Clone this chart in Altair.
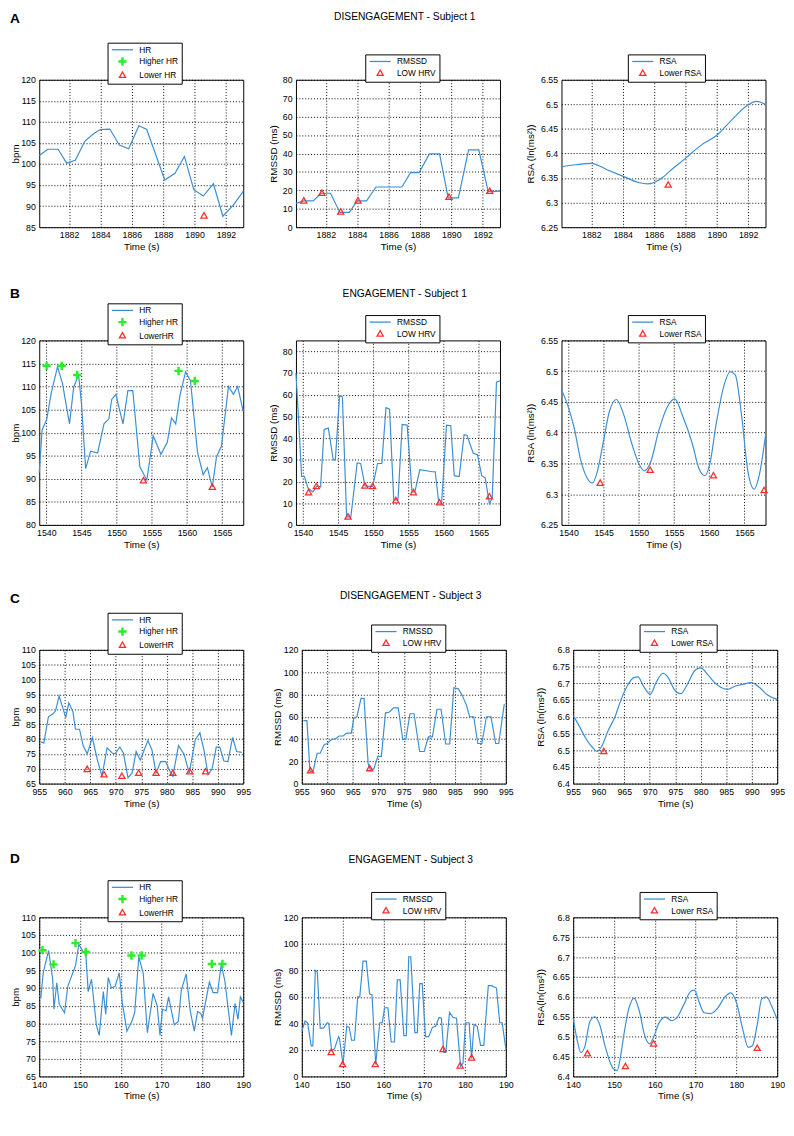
import altair as alt
import pandas as pd

FONT = "Liberation Sans"
BLUE = "#3b8ed3"
GREEN = "#2bee2b"
RED = "#ff2b2b"
LINE_SYM = "M-3.6,0L3.6,0"
PLUS_SYM = ("M-1.2,-0.2L-0.2,-0.2L-0.2,-1.2L0.2,-1.2L0.2,-0.2L1.2,-0.2L1.2,0.2L0.2,0.2"
            "L0.2,1.2L-0.2,1.2L-0.2,0.2L-1.2,0.2Z")
TRI_SYM = "M0,-1.1L1.05,0.75L-1.05,0.75Z"

ROW_TITLES = ["DISENGAGEMENT - Subject 1", "ENGAGEMENT - Subject 1",
              "DISENGAGEMENT - Subject 3", "ENGAGEMENT - Subject 3"]
LETTERS = ["A", "B", "C", "D"]
HR_NAMES_A = ["HR", "Higher HR", "Lower HR"]
HR_NAMES = ["HR", "Higher HR", "LowerHR"]
RM_NAMES = ["RMSSD", "LOW HRV"]
RSA_NAMES = ["RSA", "Lower RSA"]

# ---------------- Row A : DISENGAGEMENT - Subject 1 ----------------
A_X_TICKS = [1882, 1884, 1886, 1888, 1890, 1892]
A_HR_T = [1880.1, 1880.65, 1881.3, 1881.85, 1882.4, 1883.0, 1883.6, 1884.0, 1884.6, 1885.2, 1885.8,
          1886.45, 1886.95, 1888.1, 1888.75, 1889.35, 1889.95, 1890.55, 1891.2, 1891.8, 1892.45, 1893.1]
A_HR_V = [102.0, 103.5, 103.5, 100.2, 100.9, 105.4, 107.3, 108.2, 108.3, 104.5, 103.6,
          109.1, 108.2, 96.2, 97.8, 101.8, 93.9, 92.4, 95.3, 87.6, 90.2, 93.5]
A_HR_HI_T, A_HR_HI_V = [], []
A_HR_LO_T, A_HR_LO_V = [1890.6], [87.7]
A_RM_T = [1880.1, 1880.6, 1881.2, 1881.7, 1882.3, 1882.9, 1883.5, 1884.0, 1884.6, 1885.2, 1886.85,
          1887.4, 1887.95, 1888.6, 1889.25, 1889.8, 1890.45, 1891.1, 1891.75, 1892.35, 1893.1]
A_RM_V = [12.9, 14.3, 14.3, 18.4, 18.4, 8.0, 8.0, 14.3, 14.3, 21.8, 21.8,
          29.6, 29.6, 39.8, 39.8, 15.9, 15.9, 42.0, 42.0, 19.3, 19.6]
A_RM_LO_T = [1880.6, 1881.75, 1882.95, 1884.05, 1889.85, 1892.45]
A_RM_LO_V = [14.3, 18.4, 8.3, 14.3, 16.3, 19.5]
A_RSA_T = [1880.1, 1881.0, 1882.0, 1883.0, 1884.0, 1885.0, 1885.6, 1886.0, 1886.5, 1887.0,
           1888.0, 1889.0, 1890.0, 1891.0, 1892.0, 1892.5, 1893.1]
A_RSA_V = [6.373, 6.377, 6.380, 6.367, 6.354, 6.341, 6.338, 6.341, 6.35, 6.364,
           6.39, 6.417, 6.437, 6.47, 6.499, 6.506, 6.5]
A_RSA_LO_T, A_RSA_LO_V = [1886.9], [6.336]

# ---------------- Row B : ENGAGEMENT - Subject 1 ----------------
B_X_TICKS = [1540, 1545, 1550, 1555, 1560, 1565]
B_HR_T = [1539.0, 1539.4, 1540.05, 1540.7, 1541.6, 1542.3, 1543.3, 1543.9, 1544.6, 1545.0,
          1545.6, 1546.3, 1547.3, 1548.2, 1548.9, 1549.3, 1549.9, 1550.9, 1551.6, 1552.3,
          1553.3, 1554.3, 1555.2, 1556.3, 1557.2, 1557.8, 1558.4, 1559.0, 1559.8, 1560.5,
          1561.5, 1562.3, 1562.9, 1563.6, 1564.2, 1564.9, 1565.9, 1566.6, 1567.2, 1568.0]
B_HR_V = [91.3, 100.6, 102.8, 108.5, 114.3, 110.7, 101.9, 109.9, 112.5, 106.3,
          92.2, 96.0, 95.6, 101.9, 103.0, 107.2, 108.3, 101.9, 109.1, 109.1,
          92.6, 89.7, 99.3, 95.3, 97.9, 103.2, 101.9, 108.1, 113.2, 111.2,
          95.7, 90.9, 92.4, 88.2, 94.8, 97.1, 110.0, 108.3, 110.0, 104.6]
B_HR_HI_T = [1540.05, 1542.2, 1544.4, 1558.8, 1561.1]
B_HR_HI_V = [114.5, 114.5, 112.5, 113.4, 111.2]
B_HR_LO_T = [1553.8, 1563.6]
B_HR_LO_V = [89.6, 88.2]
B_RM_T = [1539.0, 1539.5, 1539.8, 1540.2, 1540.7, 1541.4, 1542.0, 1542.5, 1543.0, 1543.6,
          1544.3, 1544.6, 1545.2, 1545.6, 1546.2, 1546.8, 1547.7, 1548.2, 1548.8, 1549.9,
          1550.6, 1551.2, 1551.8, 1552.3, 1552.9, 1553.5, 1554.1, 1554.8, 1555.5, 1555.9,
          1556.6, 1558.4, 1558.8, 1559.3, 1559.7, 1560.4, 1561.0, 1561.5, 1562.2, 1562.9,
          1563.3, 1564.2, 1564.8, 1565.4, 1565.9, 1566.5, 1566.9, 1567.5, 1568.0]
B_RM_V = [70, 41, 22.3, 22.3, 17, 15.2, 18, 17.5, 44, 44.6,
          30, 30, 59.5, 59, 3.7, 3.7, 28.6, 28.3, 18, 17.7,
          28.3, 28.3, 54, 53.3, 11.5, 11.5, 46.3, 46, 15.2, 15.2,
          25.5, 24.5, 24.5, 10, 10, 46, 45.7, 22.7, 22.3, 41.6,
          41.3, 33, 32.3, 22.7, 21.7, 9.7, 12.5, 65.8, 66.4]
B_RM_LO_T = [1540.8, 1541.9, 1546.4, 1548.8, 1549.9, 1553.2, 1555.7, 1559.4, 1566.5]
B_RM_LO_V = [14.9, 17.7, 3.7, 18, 17.7, 11.2, 14.9, 10.2, 13]
B_RSA_T = [1539.0, 1539.9, 1540.8, 1541.7, 1542.6, 1543.4, 1544.1, 1544.9, 1545.8, 1546.8,
           1547.8, 1549.0, 1550.1, 1550.8, 1551.7, 1552.8, 1554.0, 1555.1, 1556.2, 1557.6,
           1558.5, 1559.4, 1560.1, 1561.0, 1562.1, 1563.0, 1563.7, 1564.6, 1565.5, 1566.4,
           1567.1, 1568.0]
B_RSA_V = [6.47, 6.444, 6.408, 6.357, 6.327, 6.318, 6.337, 6.382, 6.434, 6.454,
           6.431, 6.382, 6.347, 6.338, 6.353, 6.402, 6.441, 6.455, 6.428, 6.382,
           6.343, 6.33, 6.35, 6.415, 6.477, 6.499, 6.494, 6.428, 6.337, 6.308,
           6.33, 6.395]
B_RSA_LO_T = [1544.5, 1551.6, 1560.6, 1567.8]
B_RSA_LO_V = [6.318, 6.339, 6.33, 6.306]

# ---------------- Row C : DISENGAGEMENT - Subject 3 ----------------
C_X_TICKS = [955, 960, 965, 970, 975, 980, 985, 990, 995]
C_HR_T = [955.3, 955.9, 956.8, 957.7, 958.2, 958.9, 960.2, 960.8, 961.6, 962.1,
          962.9, 963.6, 964.4, 965.4, 966.4, 967.3, 968.3, 969.3, 969.9, 970.8,
          971.5, 972.4, 973.2, 974.0, 974.8, 976.3, 977.1, 977.9, 978.8, 979.8,
          980.4, 981.2, 982.3, 983.4, 984.4, 985.6, 986.5, 987.3, 988.1, 988.9,
          989.7, 990.4, 991.2, 992.0, 992.9, 993.7, 994.7]
C_HR_V = [79.1, 78.6, 87.5, 88.5, 89.5, 94.5, 87.2, 92.2, 89.2, 83.3,
          83.3, 77.8, 75.0, 80.5, 73.0, 67.5, 77.0, 75.3, 75.0, 77.3,
          75.3, 67.0, 68.5, 75.8, 72.9, 79.5, 76.3, 68.5, 72.4, 72.4,
          70.0, 67.5, 77.8, 74.9, 68.5, 79.8, 82.1, 76.3, 68.0, 70.0,
          77.3, 77.3, 72.6, 72.4, 80.5, 75.8, 75.5]
C_HR_HI_T, C_HR_HI_V = [], []
C_HR_LO_T = [964.4, 967.7, 971.2, 974.5, 977.9, 981.2, 984.5, 987.6]
C_HR_LO_V = [69.8, 68.0, 67.5, 68.5, 68.5, 68.5, 69.0, 69.0]
C_RM_T = [955.3, 956.0, 956.6, 957.2, 958.0, 958.6, 959.4, 960.0, 960.8, 961.7,
          962.3, 963.1, 963.8, 964.7, 965.2, 965.8, 966.6, 967.2, 968.0, 968.4,
          969.1, 969.9, 970.6, 971.4, 972.1, 973.0, 973.9, 974.8, 975.4, 976.2,
          977.0, 978.1, 979.0, 979.8, 980.6, 981.5, 982.3, 983.2, 984.0, 984.8,
          985.7, 986.5, 987.3, 987.9, 988.7, 989.5, 990.3, 991.2, 992.1, 993.0,
          993.6, 994.7]
C_RM_V = [56.5, 56.5, 11, 11, 27.2, 27.2, 35.2, 36, 39.5, 40.5,
          42.7, 42.7, 45.3, 45.3, 58.7, 60, 76.5, 76.5, 18, 13,
          13, 24.5, 24.5, 63.5, 64, 68, 68, 39.5, 40, 62.7,
          62.7, 28.8, 28.8, 41.9, 41.9, 66.7, 66.7, 35.5, 35.5, 86,
          85, 78.7, 70, 60, 60, 36, 36, 60, 60, 36,
          36, 71.5]
C_RM_LO_T = [956.7, 968.3]
C_RM_LO_V = [11.5, 13.5]
C_RSA_T = [955.0, 956.3, 957.5, 958.8, 959.7, 960.6, 961.9, 963.2, 964.4, 965.7,
           966.9, 967.7, 968.8, 970.1, 971.3, 972.6, 973.5, 974.8, 976.1, 977.3,
           978.9, 980.0, 981.4, 982.6, 983.9, 985.2, 986.7, 988.3, 989.9, 991.5,
           993.1, 995.0]
C_RSA_V = [6.604, 6.569, 6.534, 6.508, 6.496, 6.512, 6.56, 6.6, 6.652, 6.695,
           6.717, 6.719, 6.691, 6.667, 6.704, 6.73, 6.72, 6.682, 6.669, 6.695,
           6.739, 6.746, 6.726, 6.704, 6.688, 6.682, 6.691, 6.697, 6.702, 6.688,
           6.665, 6.652]
C_RSA_LO_T, C_RSA_LO_V = [961.0], [6.496]

# ---------------- Row D : ENGAGEMENT - Subject 3 ----------------
D_X_TICKS = [140, 150, 160, 170, 180, 190]
D_HR_T = [140.0, 140.4, 141.0, 142.3, 143.3, 143.6, 144.3, 144.9, 146.2, 147.0,
          148.9, 149.7, 150.8, 151.4, 152.0, 152.8, 154.0, 154.7, 155.7, 156.3,
          156.9, 157.7, 158.6, 159.6, 160.4, 161.5, 162.7, 163.4, 164.4, 165.5,
          166.5, 167.9, 168.9, 169.6, 170.2, 171.1, 171.7, 173.1, 174.1, 174.8,
          176.0, 177.0, 178.0, 178.8, 179.6, 180.0, 181.7, 182.6, 183.7, 184.6,
          185.5, 187.1, 188.0, 188.7, 189.3, 190.0]
D_HR_V = [88, 87.3, 94.5, 100.6, 92.5, 84, 91.5, 85.5, 83, 90.5,
          96.4, 102.4, 100.2, 99.8, 89, 92.5, 79.6, 76.6, 89, 82.6,
          93, 90, 90.5, 94.3, 85.5, 77.8, 80.6, 83.1, 98.9, 94,
          77.4, 88.5, 85, 76.6, 84, 83.6, 87.5, 79.6, 80.6, 89.3,
          94, 83.6, 77.8, 83.4, 82.8, 81.4, 91.7, 88.7, 88.7, 96.6,
          92, 76.6, 85.7, 81.1, 87.5, 86]
D_HR_HI_T = [140.8, 143.5, 148.9, 151.4, 162.6, 165.1, 182.3, 184.9]
D_HR_HI_V = [100.7, 96.7, 102.7, 100.2, 99.2, 99.2, 96.8, 96.8]
D_HR_LO_T, D_HR_LO_V = [], []
D_RM_T = [140.0, 140.8, 141.4, 142.3, 142.7, 143.3, 143.8, 144.5, 145.3, 146.2,
          146.6, 147.3, 148.0, 149.0, 149.2, 150.1, 151.0, 151.6, 152.2, 152.9,
          153.7, 154.2, 155.0, 155.8, 156.6, 157.2, 158.1, 159.1, 159.7, 160.3,
          161.1, 161.9, 162.7, 163.4, 164.1, 165.0, 165.6, 166.2, 166.7, 167.7,
          168.3, 168.9, 169.5, 170.3, 171.1, 172.0, 172.8, 173.6, 174.2, 174.8,
          175.3, 176.2, 177.1, 177.9, 178.9, 179.5, 180.1, 181.0, 181.6, 182.2,
          183.0, 183.8, 184.6, 185.7, 186.5, 187.7, 188.5, 189.1, 190.0]
D_RM_V = [34, 41.8, 40.5, 23, 23, 80, 78.5, 36.5, 36.5, 40.5,
          40, 19.5, 20.8, 30, 29, 9, 38, 37, 27.3, 27.3,
          60, 60, 87, 87, 62.3, 61.5, 9, 40.5, 40.5, 51.8,
          51.8, 26, 26, 72.8, 72.8, 30.8, 30.8, 90.3, 90.3, 33.1,
          33.1, 70, 70, 30, 30, 37, 37.8, 44.4, 43.9, 18.2,
          18.2, 48.3, 44.4, 43.9, 7.7, 10, 40.5, 40.5, 13.5, 39.2,
          37.8, 23.4, 23.4, 68.5, 68.5, 66.7, 40.5, 40.5, 20.8]
D_RM_LO_T = [147.2, 150.0, 158.0, 174.6, 178.8, 181.6]
D_RM_LO_V = [18.2, 9, 9, 20.3, 8, 14]
D_RSA_T = [140.0, 140.9, 141.9, 142.9, 144.1, 145.3, 146.5, 147.8, 149.1, 150.0,
           150.8, 151.6, 152.4, 153.6, 154.9, 156.2, 157.5, 158.7, 159.9, 161.0,
           162.6, 164.2, 165.4, 167.0, 168.9, 169.7, 170.9, 172.1, 173.7, 175.2,
           177.2, 178.6, 180.0, 181.5, 182.9, 183.9, 185.1, 186.2, 187.4, 188.6,
           190.0]
D_RSA_V = [6.547, 6.495, 6.46, 6.477, 6.538, 6.55, 6.53, 6.477, 6.434, 6.418,
           6.415, 6.45, 6.504, 6.569, 6.597, 6.565, 6.504, 6.482, 6.504, 6.534,
           6.549, 6.54, 6.547, 6.578, 6.615, 6.617, 6.586, 6.56, 6.558, 6.569,
           6.6, 6.61, 6.586, 6.521, 6.473, 6.477, 6.53, 6.595, 6.6, 6.578,
           6.543]
D_RSA_LO_T = [143.5, 152.8, 159.7, 185.1]
D_RSA_LO_V = [6.457, 6.425, 6.482, 6.471]

# ---------------- axes ----------------
HR_TICKS_AB = [85, 90, 95, 100, 105, 110, 115, 120]
HR_TICKS_B = [80, 85, 90, 95, 100, 105, 110, 115, 120]
HR_TICKS_CD = [65, 70, 75, 80, 85, 90, 95, 100, 105, 110]
RM_TICKS_AB = [0, 10, 20, 30, 40, 50, 60, 70, 80]
RM_TICKS_CD = [0, 20, 40, 60, 80, 100, 120]
RSA_TICKS_AB = [6.25, 6.3, 6.35, 6.4, 6.45, 6.5, 6.55]
RSA_TICKS_CD = [6.4, 6.45, 6.5, 6.55, 6.6, 6.65, 6.7, 6.75, 6.8]

W = 209


def panel(line_t, line_v, hi_t, hi_v, lo_t, lo_v, names, xdom, xticks, ydom, yticks,
          yfmt, ytitle, h, lx, ly, smooth=False, ytpad=3, head=None):
    line_df = pd.DataFrame({"t": line_t, "v": line_v})
    if len(names) == 3:
        pts_s = [names[1]] * len(hi_t) + [names[2]] * len(lo_t)
        colors = [BLUE, GREEN, RED]
        shapes = [LINE_SYM, PLUS_SYM, TRI_SYM]
    else:
        pts_s = [names[1]] * len(lo_t)
        colors = [BLUE, RED]
        shapes = [LINE_SYM, TRI_SYM]
    pts_df = pd.DataFrame({"t": list(hi_t) + list(lo_t), "v": list(hi_v) + list(lo_v), "s": pts_s})
    leg = alt.Legend(title=None, orient="none", legendX=lx, legendY=ly, direction="vertical",
                     columns=1, strokeColor="black", fillColor="white", padding=3, rowPadding=1,
                     labelFont=FONT, labelFontSize=8.5, labelColor="black", labelAlign="left",
                     symbolSize=36, symbolOffset=8, labelOffset=13, symbolStrokeWidth=1.3,
                     symbolFillColor="transparent")
    x = alt.X("t:Q", scale=alt.Scale(domain=xdom, nice=False, zero=False),
              axis=alt.Axis(values=xticks, format="d", title="Time (s)"))
    y = alt.Y("v:Q", scale=alt.Scale(domain=ydom, nice=False, zero=False),
              axis=alt.Axis(values=yticks, format=yfmt, title=ytitle, titlePadding=ytpad))
    line = alt.Chart(line_df).mark_line(
        color=BLUE, strokeWidth=1.2, interpolate="monotone" if smooth else "linear"
    ).encode(x=x, y=y)
    pts = alt.Chart(pts_df).mark_point(size=36, filled=False, strokeWidth=1.3, opacity=1).encode(
        x=x, y=y,
        color=alt.Color("s:N", scale=alt.Scale(domain=names, range=colors), legend=leg),
        shape=alt.Shape("s:N", scale=alt.Scale(domain=names, range=shapes), legend=leg))
    layers = [line, pts]
    if head is not None:
        txt, hx, hy, kind = head
        if kind == "letter":
            mk = alt.Chart(pd.DataFrame({"lab": [txt]})).mark_text(
                font=FONT, fontSize=14, fontWeight="bold", align="left", baseline="middle",
                color="black")
        else:
            mk = alt.Chart(pd.DataFrame({"lab": [txt]})).mark_text(
                font=FONT, fontSize=10.5, fontWeight="normal", align="center", baseline="middle",
                color="black")
        layers.append(mk.encode(text="lab:N", x=alt.value(hx), y=alt.value(hy)))
    return alt.layer(*layers).properties(width=W, height=h)


def row(i, data, hr_names, xdom, xticks, hr_dom, hr_ticks, rm_dom, rm_ticks, rsa_dom, rsa_ticks,
        rsa_title, h, y_letter, y_title, spacing, tp2, tp3):
    (hr_t, hr_v, hi_t, hi_v, lo_t, lo_v, rm_t, rm_v, rmlo_t, rmlo_v,
     rsa_t, rsa_v, rsalo_t, rsalo_v) = data
    p1 = panel(hr_t, hr_v, hi_t, hi_v, lo_t, lo_v, hr_names, xdom, xticks, hr_dom, hr_ticks,
               "d", "bpm", h, 70, -38, ytpad=0, head=(LETTERS[i], -30, y_letter, "letter"))
    p2 = panel(rm_t, rm_v, [], [], rmlo_t, rmlo_v, RM_NAMES, xdom, xticks, rm_dom, rm_ticks,
               "d", "RMSSD (ms)", h, 71, -26, ytpad=tp2,
               head=(ROW_TITLES[i], W / 2 + 7, y_title, "title"))
    p3 = panel(rsa_t, rsa_v, [], [], rsalo_t, rsalo_v, RSA_NAMES, xdom, xticks, rsa_dom,
               rsa_ticks, ".2~f", rsa_title, h, 68, -26, smooth=True, ytpad=tp3)
    return alt.hconcat(p1, p2, p3, spacing=spacing).resolve_scale(
        color="independent", shape="independent").resolve_legend(
        color="independent", shape="independent")


def indep(c):
    return c.resolve_scale(color="independent", shape="independent").resolve_legend(
        color="independent", shape="independent")


rowA = row(0, (A_HR_T, A_HR_V, A_HR_HI_T, A_HR_HI_V, A_HR_LO_T, A_HR_LO_V, A_RM_T, A_RM_V,
               A_RM_LO_T, A_RM_LO_V, A_RSA_T, A_RSA_V, A_RSA_LO_T, A_RSA_LO_V),
           HR_NAMES_A, [1880.1, 1893.1], A_X_TICKS, [85, 120], HR_TICKS_AB, [0, 80], RM_TICKS_AB,
           [6.25, 6.55], RSA_TICKS_AB, "RSA (ln(ms²))", 151, -62, -64, 22, 4, 5)
rowB = row(1, (B_HR_T, B_HR_V, B_HR_HI_T, B_HR_HI_V, B_HR_LO_T, B_HR_LO_V, B_RM_T, B_RM_V,
               B_RM_LO_T, B_RM_LO_V, B_RSA_T, B_RSA_V, B_RSA_LO_T, B_RSA_LO_V),
           HR_NAMES, [1539, 1568], B_X_TICKS, [80, 120], HR_TICKS_B, [0, 85], RM_TICKS_AB,
           [6.25, 6.55], RSA_TICKS_AB, "RSA (ln(ms²))", 189, -47, -47, 22, 4, 5)
rowC = row(2, (C_HR_T, C_HR_V, C_HR_HI_T, C_HR_HI_V, C_HR_LO_T, C_HR_LO_V, C_RM_T, C_RM_V,
               C_RM_LO_T, C_RM_LO_V, C_RSA_T, C_RSA_V, C_RSA_LO_T, C_RSA_LO_V),
           HR_NAMES, [955, 995], C_X_TICKS, [65, 110], HR_TICKS_CD, [0, 120], RM_TICKS_CD,
           [6.4, 6.8], RSA_TICKS_CD, "RSA (ln(ms²))", 137, -52, -55, 20, 1, 7)
rowD = row(3, (D_HR_T, D_HR_V, D_HR_HI_T, D_HR_HI_V, D_HR_LO_T, D_HR_LO_V, D_RM_T, D_RM_V,
               D_RM_LO_T, D_RM_LO_V, D_RSA_T, D_RSA_V, D_RSA_LO_T, D_RSA_LO_V),
           HR_NAMES, [140, 190], D_X_TICKS, [65, 110], HR_TICKS_CD, [0, 120], RM_TICKS_CD,
           [6.4, 6.8], RSA_TICKS_CD, "RSA(ln(ms²))", 163, -60, -59, 20, 1, 7)

ab = indep(alt.vconcat(rowA, rowB, spacing=35))
abc = indep(alt.vconcat(ab, rowC, spacing=41))
chart = indep(alt.vconcat(abc, rowD, spacing=43)).properties(
    padding={"left": 1, "top": -10, "right": 0, "bottom": 2}
).configure(
    font=FONT, background="white"
).configure_view(stroke="black", strokeWidth=1).configure_axis(
    labelFont=FONT, labelFontSize=9, labelColor="black", titleFont=FONT, titleFontSize=10,
    titleFontWeight="normal", titleColor="black", grid=True, gridColor="black",
    gridDash=[1, 2], gridWidth=1, gridOpacity=1, ticks=False, domain=False,
    labelPadding=4, labelFlush=False, labelOverlap=False
).configure_axisX(labelPadding=4, titlePadding=2)

chart.save("out.html", embed_options={"renderer": "svg", "actions": False})
